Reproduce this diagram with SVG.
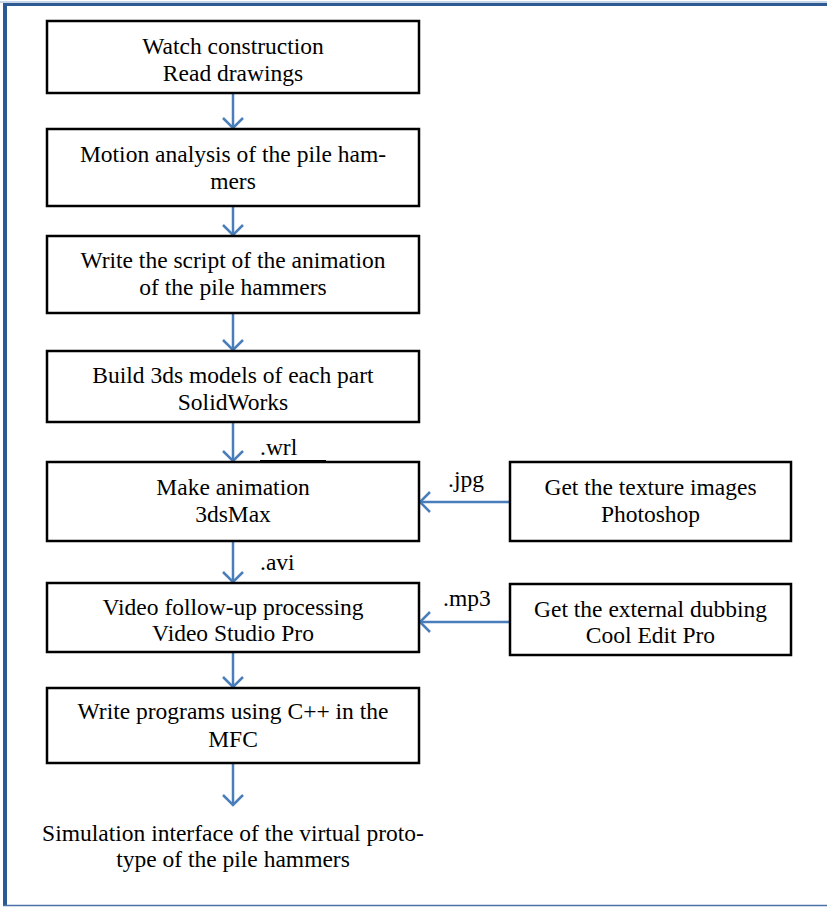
<svg xmlns="http://www.w3.org/2000/svg" width="827" height="907" viewBox="0 0 827 907">
<defs>
<style>
.box{fill:#fff;stroke:#000;stroke-width:2.5}
.t{font-family:"Liberation Serif","Times New Roman",serif;font-size:23.5px;fill:#000;text-anchor:middle}
.lbl{font-family:"Liberation Serif","Times New Roman",serif;font-size:23.5px;fill:#000}
.c{fill:none;stroke:#4a7ebb;stroke-width:2.5}
</style>
<marker id="ah" viewBox="0 0 24 24" refX="20" refY="12" markerWidth="24" markerHeight="24" markerUnits="userSpaceOnUse" orient="auto">
<path d="M10,2 L20,12 L10,22" fill="none" stroke="#4a7ebb" stroke-width="2.5"/>
</marker>
</defs>
<rect x="0" y="0" width="827" height="907" fill="#fff"/>
<g id="frame">
<line x1="0" y1="2" x2="827" y2="2" stroke="#8faad0" stroke-width="1"/>
<line x1="3" y1="4.5" x2="827" y2="4.5" stroke="#2d5a93" stroke-width="3"/>
<line x1="5" y1="3" x2="5" y2="906" stroke="#2d5a93" stroke-width="4"/>
<line x1="3" y1="905.5" x2="827" y2="905.5" stroke="#4a72a8" stroke-width="1.5"/>
</g>
<g id="connectors">
<line class="c" x1="233" y1="94" x2="233" y2="128" marker-end="url(#ah)"/>
<line class="c" x1="233" y1="207" x2="233" y2="235" marker-end="url(#ah)"/>
<line class="c" x1="233" y1="314" x2="233" y2="350" marker-end="url(#ah)"/>
<line class="c" x1="233" y1="423" x2="233" y2="461" marker-end="url(#ah)"/>
<line class="c" x1="233" y1="542" x2="233" y2="582" marker-end="url(#ah)"/>
<line class="c" x1="233" y1="653" x2="233" y2="687" marker-end="url(#ah)"/>
<line class="c" x1="233" y1="764" x2="233" y2="805" marker-end="url(#ah)"/>
<line class="c" x1="510" y1="502" x2="420" y2="502" marker-end="url(#ah)"/>
<line class="c" x1="510" y1="622" x2="420" y2="622" marker-end="url(#ah)"/>
<text class="lbl" x="260" y="455">.wrl</text>
<text class="lbl" x="448" y="487">.jpg</text>
<text class="lbl" x="260" y="570">.avi</text>
<text class="lbl" x="443" y="606">.mp3</text>
</g>
<g id="n1">
<rect class="box" x="47" y="21" width="372" height="72"/>
<text class="t" x="233" y="54">Watch construction</text>
<text class="t" x="233" y="81">Read drawings</text>
</g>
<g id="n2">
<rect class="box" x="47" y="129" width="372" height="77"/>
<text class="t" x="233" y="162">Motion analysis of the pile ham-</text>
<text class="t" x="233" y="189">mers</text>
</g>
<g id="n3">
<rect class="box" x="47" y="236" width="372" height="77"/>
<text class="t" x="233" y="268">Write the script of the animation</text>
<text class="t" x="233" y="295">of the pile hammers</text>
</g>
<g id="n4">
<rect class="box" x="47" y="351" width="372" height="71"/>
<text class="t" x="233" y="383">Build 3ds models of each part</text>
<text class="t" x="233" y="410">SolidWorks</text>
</g>
<g id="n5">
<rect class="box" x="47" y="462" width="372" height="79"/>
<line x1="260" y1="461.5" x2="326" y2="461.5" stroke="#000" stroke-width="3"/>
<text class="t" x="233" y="495">Make animation</text>
<text class="t" x="233" y="522">3dsMax</text>
</g>
<g id="n6">
<rect class="box" x="47" y="583" width="372" height="69"/>
<text class="t" x="233" y="615">Video follow-up processing</text>
<text class="t" x="233" y="641">Video Studio Pro</text>
</g>
<g id="n7">
<rect class="box" x="47" y="688" width="372" height="75"/>
<text class="t" x="233" y="719">Write programs using C++ in the</text>
<text class="t" x="233" y="747">MFC</text>
</g>
<g id="n8">
<text class="t" x="233" y="841">Simulation interface of the virtual proto-</text>
<text class="t" x="233" y="867">type of the pile hammers</text>
</g>
<g id="n9">
<rect class="box" x="510" y="462" width="281" height="79"/>
<text class="t" x="650.5" y="495">Get the texture images</text>
<text class="t" x="650.5" y="522">Photoshop</text>
</g>
<g id="n10">
<rect class="box" x="510" y="584" width="281" height="71"/>
<text class="t" x="650.5" y="617">Get the external dubbing</text>
<text class="t" x="650.5" y="643">Cool Edit Pro</text>
</g>
</svg>
